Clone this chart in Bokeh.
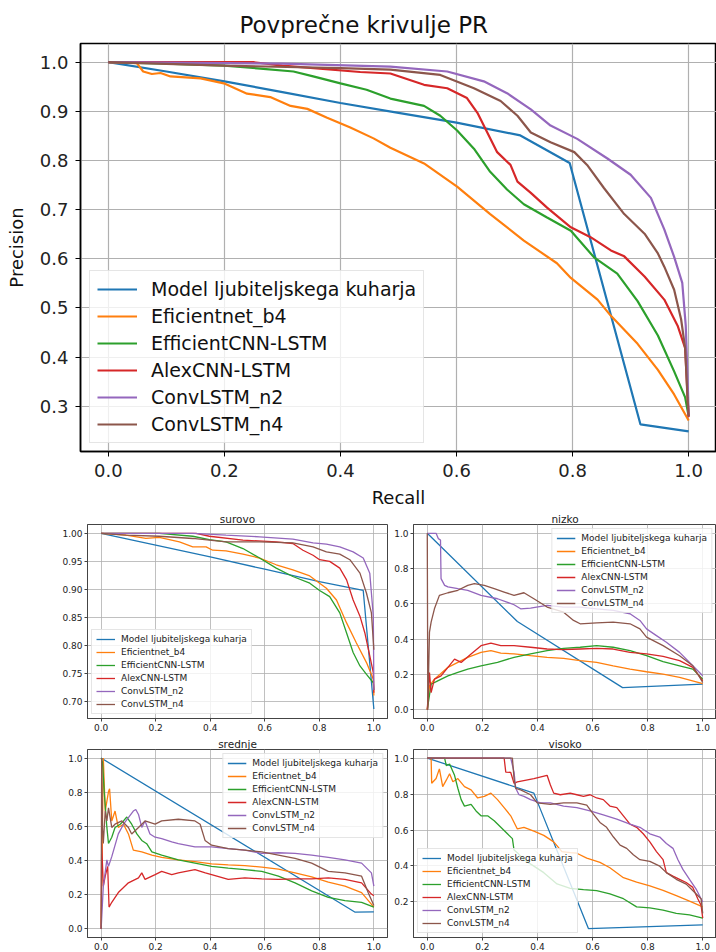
from bokeh.plotting import figure
from bokeh.layouts import column, row
from bokeh.models import FixedTicker, NumeralTickFormatter, Range1d
from bokeh.embed import file_html
from bokeh.resources import INLINE

FONT = "DejaVu Sans"
SERIES = ["Model ljubiteljskega kuharja", "Eficientnet_b4", "EfficientCNN-LSTM",
          "AlexCNN-LSTM", "ConvLSTM_n2", "ConvLSTM_n4"]
COLORS = ["#1f77b4", "#ff7f0e", "#2ca02c", "#d62728", "#9467bd", "#8c564b"]
TICKS_X = [0.0, 0.2, 0.4, 0.6, 0.8, 1.0]

# ---------------- Povprečne krivulje PR (average) ----------------
avg_model_r = [0.0, 0.1, 0.2, 0.3, 0.4, 0.5, 0.6, 0.71, 0.795, 0.917, 1.0]
avg_model_p = [1.0, 0.981, 0.961, 0.939, 0.917, 0.897, 0.877, 0.851, 0.795, 0.263, 0.249]
avg_eff_r = [0.0, 0.049, 0.06, 0.075, 0.09, 0.107, 0.159, 0.199, 0.239, 0.279, 0.314, 0.343, 0.377, 0.417, 0.457,
             0.486, 0.544, 0.601, 0.658, 0.716, 0.773, 0.797, 0.843, 0.866, 0.912, 0.947, 0.975, 1.0]
avg_eff_p = [1.0, 0.998, 0.981, 0.976, 0.978, 0.971, 0.967, 0.957, 0.936, 0.929, 0.911, 0.905, 0.887, 0.867, 0.845,
             0.826, 0.794, 0.747, 0.691, 0.637, 0.591, 0.561, 0.517, 0.484, 0.427, 0.374, 0.324, 0.271]
avg_ecnn_r = [0.0, 0.1, 0.2, 0.262, 0.319, 0.353, 0.4, 0.445, 0.486, 0.544, 0.572, 0.601, 0.630, 0.658, 0.687,
              0.716, 0.756, 0.797, 0.837, 0.877, 0.912, 0.947, 0.975, 0.994, 1.0]
avg_ecnn_p = [1.0, 0.997, 0.993, 0.987, 0.981, 0.971, 0.957, 0.944, 0.926, 0.911, 0.891, 0.861, 0.824, 0.777, 0.741,
              0.711, 0.684, 0.657, 0.603, 0.57, 0.514, 0.444, 0.371, 0.318, 0.28]
avg_alex_r = [0.0, 0.19, 0.25, 0.3, 0.434, 0.486, 0.544, 0.584, 0.618, 0.636, 0.653, 0.670, 0.693, 0.705, 0.728,
              0.756, 0.797, 0.831, 0.866, 0.889, 0.924, 0.958, 0.981, 0.994, 1.0]
avg_alex_p = [1.0, 1.0, 1.0, 0.993, 0.98, 0.977, 0.954, 0.947, 0.927, 0.897, 0.857, 0.817, 0.791, 0.757, 0.734,
              0.704, 0.664, 0.644, 0.617, 0.605, 0.564, 0.517, 0.464, 0.418, 0.278]
avg_n2_r = [0.0, 0.3, 0.486, 0.584, 0.647, 0.687, 0.728, 0.762, 0.808, 0.860, 0.900, 0.935, 0.958, 0.975, 0.989,
            0.995, 0.999, 1.0]
avg_n2_p = [1.0, 0.997, 0.991, 0.981, 0.961, 0.937, 0.904, 0.871, 0.844, 0.804, 0.771, 0.724, 0.66, 0.604, 0.551,
            0.464, 0.324, 0.28]
avg_n4_r = [0.0, 0.2, 0.4, 0.486, 0.572, 0.630, 0.676, 0.705, 0.728, 0.762, 0.803, 0.825, 0.854, 0.889, 0.924,
            0.947, 0.958, 0.975, 0.987, 0.994, 0.998, 1.0]
avg_n4_p = [1.0, 0.993, 0.988, 0.985, 0.974, 0.947, 0.921, 0.891, 0.857, 0.837, 0.817, 0.791, 0.744, 0.691, 0.651,
            0.611, 0.584, 0.537, 0.477, 0.418, 0.318, 0.28]

# ---------------- surovo ----------------
sur_model_r = [0.0, 0.2, 0.4, 0.6, 0.8, 0.961, 1.0]
sur_model_p = [1.0, 0.979, 0.958, 0.936, 0.914, 0.898, 0.686]
sur_eff_r = [0.0, 0.091, 0.164, 0.213, 0.287, 0.336, 0.385, 0.409, 0.458, 0.520, 0.581, 0.642, 0.703, 0.765, 0.826,
             0.863, 0.900, 0.936, 0.973, 0.998, 1.0]
sur_eff_p = [1.0, 0.997, 0.991, 0.993, 0.985, 0.976, 0.976, 0.970, 0.969, 0.963, 0.956, 0.944, 0.935, 0.924, 0.902,
             0.881, 0.840, 0.804, 0.769, 0.739, 0.71]
sur_ecnn_r = [0.0, 0.213, 0.336, 0.397, 0.458, 0.520, 0.581, 0.642, 0.703, 0.765, 0.801, 0.838, 0.875, 0.900, 0.924,
              0.949, 0.973, 0.998, 1.0]
sur_ecnn_p = [1.0, 1.0, 0.995, 0.989, 0.985, 0.973, 0.956, 0.938, 0.923, 0.911, 0.898, 0.887, 0.858, 0.822, 0.787,
              0.763, 0.748, 0.733, 0.72]
sur_alex_r = [0.0, 0.348, 0.397, 0.520, 0.642, 0.703, 0.740, 0.777, 0.801, 0.838, 0.875, 0.900, 0.924, 0.949, 0.967,
              0.985, 0.998, 1.0]
sur_alex_p = [1.0, 1.0, 0.995, 0.988, 0.985, 0.982, 0.970, 0.961, 0.953, 0.950, 0.938, 0.917, 0.881, 0.852, 0.822,
              0.781, 0.751, 0.715]
sur_n2_r = [0.0, 0.336, 0.458, 0.581, 0.703, 0.777, 0.826, 0.875, 0.924, 0.961, 0.985, 0.998, 1.0]
sur_n2_p = [1.0, 1.0, 0.997, 0.994, 0.990, 0.983, 0.981, 0.976, 0.967, 0.956, 0.929, 0.852, 0.72]
sur_n4_r = [0.0, 0.091, 0.213, 0.336, 0.458, 0.581, 0.703, 0.777, 0.826, 0.875, 0.912, 0.949, 0.973, 0.991, 1.0]
sur_n4_p = [1.0, 0.997, 0.995, 0.991, 0.985, 0.985, 0.983, 0.976, 0.967, 0.963, 0.953, 0.929, 0.893, 0.858, 0.792]

# ---------------- nizko ----------------
niz_model_r = [0.0, 0.327, 0.709, 1.0]
niz_model_p = [1.0, 0.5, 0.125, 0.145]
niz_eff_r = [0.0, 0.008, 0.026, 0.075, 0.111, 0.147, 0.195, 0.231, 0.267, 0.315, 0.375, 0.435, 0.495, 0.555, 0.615,
             0.675, 0.736, 0.796, 0.856, 0.916, 1.0]
niz_eff_p = [0.0, 0.135, 0.173, 0.24, 0.268, 0.297, 0.325, 0.335, 0.321, 0.316, 0.306, 0.297, 0.291, 0.278, 0.268,
             0.249, 0.23, 0.215, 0.202, 0.183, 0.148]
niz_ecnn_r = [0.0, 0.014, 0.038, 0.075, 0.111, 0.147, 0.195, 0.255, 0.315, 0.375, 0.435, 0.495, 0.555, 0.615, 0.675,
              0.736, 0.796, 0.856, 0.916, 0.964, 1.0]
niz_ecnn_p = [0.0, 0.144, 0.163, 0.192, 0.211, 0.23, 0.249, 0.268, 0.297, 0.316, 0.335, 0.348, 0.354, 0.363, 0.354,
              0.335, 0.306, 0.272, 0.249, 0.23, 0.173]
niz_alex_r = [0.0, 0.008, 0.014, 0.026, 0.05, 0.075, 0.099, 0.123, 0.159, 0.195, 0.231, 0.267, 0.315, 0.375, 0.435,
              0.495, 0.555, 0.615, 0.675, 0.736, 0.796, 0.856, 0.916, 0.964, 1.0]
niz_alex_p = [0.0, 0.211, 0.097, 0.173, 0.192, 0.24, 0.287, 0.268, 0.316, 0.363, 0.378, 0.363, 0.363, 0.354, 0.344,
              0.340, 0.344, 0.348, 0.344, 0.325, 0.316, 0.302, 0.278, 0.24, 0.163]
niz_n2_r = [0.0, 0.032, 0.04, 0.048, 0.05, 0.063, 0.075, 0.111, 0.147, 0.195, 0.255, 0.315, 0.339, 0.375, 0.435,
            0.495, 0.555, 0.615, 0.675, 0.736, 0.772, 0.796, 0.832, 0.868, 0.916, 0.964, 1.0]
niz_n2_p = [1.0, 1.0, 0.97, 0.962, 0.743, 0.705, 0.696, 0.686, 0.677, 0.648, 0.629, 0.595, 0.572, 0.576, 0.591,
            0.582, 0.582, 0.572, 0.563, 0.544, 0.506, 0.458, 0.42, 0.382, 0.325, 0.249, 0.192]
niz_n4_r = [0.0, 0.002, 0.008, 0.014, 0.026, 0.044, 0.075, 0.111, 0.147, 0.171, 0.207, 0.243, 0.279, 0.315, 0.351,
            0.387, 0.435, 0.495, 0.531, 0.555, 0.615, 0.675, 0.736, 0.772, 0.796, 0.856, 0.916, 0.964, 1.0]
niz_n4_p = [1.0, 0.0, 0.44, 0.496, 0.572, 0.648, 0.663, 0.677, 0.705, 0.715, 0.705, 0.686, 0.667, 0.648, 0.663,
            0.629, 0.582, 0.553, 0.506, 0.487, 0.492, 0.496, 0.487, 0.458, 0.411, 0.363, 0.306, 0.249, 0.154]

# ---------------- srednje ----------------
sre_model_r = [0.0, 0.93, 1.0]
sre_model_p = [1.0, 0.099, 0.1]
sre_eff_r = [0.0, 0.008, 0.015, 0.027, 0.031, 0.039, 0.051, 0.063, 0.082, 0.1, 0.118, 0.149, 0.186, 0.222, 0.283,
             0.344, 0.405, 0.466, 0.527, 0.589, 0.65, 0.711, 0.772, 0.833, 0.894, 0.955, 1.0]
sre_eff_p = [0.0, 1.0, 0.69, 0.804, 0.82, 0.632, 0.69, 0.594, 0.613, 0.556, 0.461, 0.451, 0.432, 0.419, 0.404,
             0.394, 0.381, 0.375, 0.37, 0.362, 0.35, 0.328, 0.305, 0.274, 0.251, 0.213, 0.128]
sre_ecnn_r = [0.0, 0.005, 0.012, 0.021, 0.027, 0.039, 0.051, 0.07, 0.082, 0.094, 0.112, 0.131, 0.149, 0.167, 0.186,
              0.222, 0.283, 0.344, 0.405, 0.466, 0.527, 0.589, 0.65, 0.711, 0.772, 0.833, 0.894, 0.955, 1.0]
sre_ecnn_p = [1.0, 0.975, 0.785, 0.594, 0.5, 0.537, 0.594, 0.613, 0.632, 0.655, 0.613, 0.556, 0.518, 0.499, 0.451,
              0.432, 0.404, 0.385, 0.366, 0.356, 0.347, 0.337, 0.309, 0.27, 0.223, 0.185, 0.166, 0.156, 0.128]
sre_alex_r = [0.0, 0.002, 0.008, 0.015, 0.021, 0.024, 0.029, 0.039, 0.063, 0.1, 0.137, 0.149, 0.161, 0.198, 0.222,
              0.259, 0.283, 0.344, 0.382, 0.405, 0.466, 0.527, 0.589, 0.65, 0.711, 0.772, 0.833, 0.894, 0.955,
              0.991, 1.0]
sre_alex_p = [0.0, 0.5, 0.25, 0.309, 0.347, 0.366, 0.128, 0.156, 0.213, 0.27, 0.299, 0.328, 0.29, 0.318, 0.337,
              0.318, 0.328, 0.347, 0.328, 0.318, 0.29, 0.299, 0.293, 0.29, 0.293, 0.293, 0.299, 0.29, 0.27,
              0.204, 0.194]
sre_n2_r = [0.0, 0.008, 0.021, 0.027, 0.039, 0.063, 0.082, 0.1, 0.118, 0.127, 0.137, 0.149, 0.161, 0.179, 0.198,
            0.222, 0.259, 0.283, 0.344, 0.405, 0.466, 0.527, 0.589, 0.65, 0.711, 0.772, 0.833, 0.894, 0.955,
            0.991, 1.0]
sre_n2_p = [0.0, 0.25, 0.404, 0.366, 0.423, 0.556, 0.613, 0.651, 0.69, 0.699, 0.67, 0.594, 0.632, 0.556, 0.537,
            0.528, 0.509, 0.499, 0.48, 0.48, 0.47, 0.461, 0.442, 0.446, 0.442, 0.432, 0.419, 0.404, 0.385,
            0.328, 0.251]
sre_n4_r = [0.0, 0.002, 0.005, 0.008, 0.015, 0.021, 0.027, 0.039, 0.051, 0.076, 0.1, 0.112, 0.137, 0.161, 0.198,
            0.222, 0.283, 0.344, 0.363, 0.381, 0.405, 0.466, 0.527, 0.589, 0.65, 0.711, 0.772, 0.833, 0.894,
            0.955, 0.979, 1.0]
sre_n4_p = [0.0, 1.0, 0.594, 0.5, 0.69, 0.632, 0.709, 0.594, 0.613, 0.632, 0.594, 0.556, 0.594, 0.632, 0.613,
            0.632, 0.642, 0.632, 0.613, 0.518, 0.49, 0.47, 0.461, 0.451, 0.432, 0.413, 0.385, 0.337, 0.328,
            0.309, 0.213, 0.137]

# ---------------- visoko ----------------
vis_model_r = [0.0, 0.387, 0.585, 1.0]
vis_model_p = [1.0, 0.805, 0.052, 0.073]
vis_eff_r = [0.0, 0.014, 0.016, 0.032, 0.044, 0.056, 0.069, 0.081, 0.093, 0.111, 0.135, 0.159, 0.183, 0.207, 0.231,
             0.255, 0.279, 0.303, 0.327, 0.351, 0.387, 0.423, 0.459, 0.489, 0.519, 0.543, 0.579, 0.627, 0.663,
             0.712, 0.76, 0.808, 0.856, 0.904, 0.952, 1.0]
vis_eff_p = [1.0, 1.0, 0.86, 0.886, 0.94, 0.841, 0.877, 0.913, 0.868, 0.886, 0.841, 0.823, 0.778, 0.787, 0.805,
             0.769, 0.724, 0.679, 0.606, 0.615, 0.594, 0.57, 0.534, 0.48, 0.474, 0.471, 0.444, 0.42, 0.39,
             0.335, 0.31, 0.29, 0.265, 0.235, 0.205, 0.173]
vis_ecnn_r = [0.0, 0.063, 0.069, 0.081, 0.099, 0.111, 0.123, 0.135, 0.159, 0.177, 0.195, 0.219, 0.243, 0.267, 0.291,
              0.309, 0.315, 0.327, 0.351, 0.387, 0.423, 0.471, 0.519, 0.567, 0.615, 0.663, 0.712, 0.76, 0.808,
              0.856, 0.904, 0.952, 1.0]
vis_ecnn_p = [1.0, 1.0, 0.958, 0.967, 0.904, 0.832, 0.769, 0.733, 0.742, 0.706, 0.679, 0.679, 0.651, 0.615, 0.579,
              0.552, 0.489, 0.474, 0.435, 0.399, 0.363, 0.3, 0.276, 0.269, 0.263, 0.245, 0.218, 0.173, 0.167,
              0.155, 0.137, 0.128, 0.11]
vis_alex_r = [0.0, 0.279, 0.285, 0.303, 0.315, 0.327, 0.387, 0.435, 0.447, 0.459, 0.483, 0.519, 0.543, 0.567, 0.591,
              0.615, 0.639, 0.663, 0.688, 0.712, 0.736, 0.76, 0.784, 0.808, 0.832, 0.856, 0.868, 0.892, 0.916,
              0.94, 0.964, 0.982, 0.994, 1.0]
vis_alex_p = [1.0, 1.0, 0.922, 0.92, 0.859, 0.868, 0.886, 0.904, 0.85, 0.805, 0.796, 0.805, 0.796, 0.787, 0.796,
              0.778, 0.769, 0.733, 0.724, 0.679, 0.633, 0.615, 0.579, 0.534, 0.48, 0.435, 0.363, 0.344, 0.326,
              0.308, 0.281, 0.218, 0.182, 0.11]
vis_n2_r = [0.0, 0.291, 0.303, 0.315, 0.321, 0.333, 0.351, 0.375, 0.411, 0.447, 0.495, 0.543, 0.591, 0.639, 0.688,
            0.736, 0.772, 0.808, 0.844, 0.868, 0.892, 0.91, 0.928, 0.952, 0.976, 1.0]
vis_n2_p = [1.0, 1.0, 1.0, 0.922, 0.832, 0.796, 0.787, 0.769, 0.751, 0.751, 0.733, 0.724, 0.706, 0.684, 0.661,
            0.633, 0.615, 0.579, 0.561, 0.525, 0.498, 0.435, 0.381, 0.326, 0.272, 0.2]
vis_n4_r = [0.0, 0.297, 0.309, 0.315, 0.321, 0.339, 0.375, 0.399, 0.447, 0.495, 0.543, 0.579, 0.603, 0.627, 0.651,
            0.676, 0.7, 0.724, 0.748, 0.772, 0.808, 0.844, 0.868, 0.904, 0.94, 0.97, 0.994, 1.0]
vis_n4_p = [1.0, 1.0, 1.0, 0.886, 0.832, 0.823, 0.796, 0.751, 0.742, 0.751, 0.751, 0.738, 0.688, 0.642, 0.615,
            0.561, 0.516, 0.498, 0.462, 0.435, 0.426, 0.399, 0.363, 0.326, 0.299, 0.254, 0.218, 0.137]


def style_common(p, tick_size, tick_out, standoff, outline_color, outline_w, grid_w):
    p.outline_line_color = outline_color
    p.outline_line_width = outline_w
    p.background_fill_color = "white"
    p.border_fill_color = "white"
    for ax in (p.xaxis, p.yaxis):
        ax.major_label_text_font = FONT
        ax.major_label_text_font_size = tick_size
        ax.major_label_text_color = "#222222"
        ax.major_tick_out = tick_out
        ax.major_tick_in = 0
        ax.minor_tick_line_color = None
        ax.major_label_standoff = standoff
        ax.axis_line_color = outline_color
        ax.axis_line_width = outline_w
        ax.major_tick_line_color = outline_color
    for g in (p.xgrid, p.ygrid):
        g.grid_line_color = "#b0b0b0"
        g.grid_line_width = grid_w


# ---------------- top figure ----------------
top = figure(width=716, height=510, output_backend="svg", toolbar_location=None,
             x_range=Range1d(-0.048, 1.048), y_range=Range1d(0.208, 1.038),
             min_border_left=80, min_border_right=0, min_border_top=43, min_border_bottom=52)
top.title.text = "Povprečne krivulje PR"
top.title.align = "left"
top.title.offset = 159
top.title.text_font = FONT
top.title.text_font_size = "23px"
top.title.text_font_style = "normal"
top.title.text_color = "#111111"
top.title.standoff = 12
style_common(top, "18px", 5, 7, "black", 1.5, 1.2)
top.xaxis.ticker = FixedTicker(ticks=TICKS_X)
top.yaxis.ticker = FixedTicker(ticks=[0.3, 0.4, 0.5, 0.6, 0.7, 0.8, 0.9, 1.0])
top.xaxis.formatter = NumeralTickFormatter(format="0.0")
top.yaxis.formatter = NumeralTickFormatter(format="0.0")
top.xaxis.axis_label = "Recall"
top.yaxis.axis_label = "Precision"
for ax in (top.xaxis, top.yaxis):
    ax.axis_label_text_font = FONT
    ax.axis_label_text_font_size = "18px"
    ax.axis_label_text_font_style = "normal"
    ax.axis_label_text_color = "#111111"
top.xaxis.axis_label_standoff = 7
top.yaxis.axis_label_standoff = 10

avg_data = [(avg_model_r, avg_model_p), (avg_eff_r, avg_eff_p), (avg_ecnn_r, avg_ecnn_p),
            (avg_alex_r, avg_alex_p), (avg_n2_r, avg_n2_p), (avg_n4_r, avg_n4_p)]
for (r, pr), name, col in zip(avg_data, SERIES, COLORS):
    top.line(r, pr, line_color=col, line_width=2.2, legend_label=name)
lg = top.legend[0]
lg.location = (9, 8)
lg.margin = 0
lg.padding = 7
lg.spacing = 5
lg.glyph_width = 40
lg.glyph_height = 20
lg.label_height = 20
lg.label_standoff = 14
lg.label_text_font = FONT
lg.label_text_font_size = "19px"
lg.label_text_color = "#111111"
lg.border_line_color = "#cccccc"
lg.background_fill_alpha = 0.8


# ---------------- small panels ----------------
def small_panel(title, data, width, height, y_range, y_ticks, y_fmt, legend_loc,
                mb_left, mb_right, mb_top, mb_bottom):
    p = figure(width=width, height=height, output_backend="svg", toolbar_location=None,
               x_range=Range1d(-0.05, 1.05), y_range=Range1d(*y_range),
               min_border_left=mb_left, min_border_right=mb_right,
               min_border_top=mb_top, min_border_bottom=mb_bottom)
    p.title.text = title
    p.title.align = "center"
    p.title.text_font = FONT
    p.title.text_font_size = "10.5px"
    p.title.text_font_style = "normal"
    p.title.text_color = "#222222"
    p.title.standoff = 0
    style_common(p, "9px", 3, 2, "#444444", 1, 0.8)
    p.xaxis.ticker = FixedTicker(ticks=TICKS_X)
    p.yaxis.ticker = FixedTicker(ticks=y_ticks)
    p.xaxis.formatter = NumeralTickFormatter(format="0.0")
    p.yaxis.formatter = NumeralTickFormatter(format=y_fmt)
    for (r, pr), name, col in zip(data, SERIES, COLORS):
        p.line(r, pr, line_color=col, line_width=1.3, legend_label=name)
    l = p.legend[0]
    l.location = legend_loc
    l.margin = 4
    l.padding = 4
    l.spacing = 3
    l.glyph_width = 19
    l.glyph_height = 10
    l.label_height = 10
    l.label_standoff = 6
    l.label_text_font = FONT
    l.label_text_font_size = "9px"
    l.label_text_color = "#222222"
    l.border_line_color = "#cccccc"
    l.background_fill_alpha = 0.8
    return p


sur_data = [(sur_model_r, sur_model_p), (sur_eff_r, sur_eff_p), (sur_ecnn_r, sur_ecnn_p),
            (sur_alex_r, sur_alex_p), (sur_n2_r, sur_n2_p), (sur_n4_r, sur_n4_p)]
niz_data = [(niz_model_r, niz_model_p), (niz_eff_r, niz_eff_p), (niz_ecnn_r, niz_ecnn_p),
            (niz_alex_r, niz_alex_p), (niz_n2_r, niz_n2_p), (niz_n4_r, niz_n4_p)]
sre_data = [(sre_model_r, sre_model_p), (sre_eff_r, sre_eff_p), (sre_ecnn_r, sre_ecnn_p),
            (sre_alex_r, sre_alex_p), (sre_n2_r, sre_n2_p), (sre_n4_r, sre_n4_p)]
vis_data = [(vis_model_r, vis_model_p), (vis_eff_r, vis_eff_p), (vis_ecnn_r, vis_ecnn_p),
            (vis_alex_r, vis_alex_p), (vis_n2_r, vis_n2_p), (vis_n4_r, vis_n4_p)]

TICKS_01 = [0.0, 0.2, 0.4, 0.6, 0.8, 1.0]
p_sur = small_panel("surovo", sur_data, 390, 225, (0.669, 1.016),
                    [0.70, 0.75, 0.80, 0.85, 0.90, 0.95, 1.00], "0.00", "bottom_left", 87, 3, 12, 17)
p_niz = small_panel("nizko", niz_data, 326, 225, (-0.05, 1.05), TICKS_01, "0.0", "top_right", 23, 0, 12, 17)
p_sre = small_panel("srednje", sre_data, 390, 217, (-0.05, 1.05), TICKS_01, "0.0", "top_right", 87, 3, 10, 15)
p_vis = small_panel("visoko", vis_data, 326, 217, (0.0025, 1.0475),
                    [0.2, 0.4, 0.6, 0.8, 1.0], "0.0", "bottom_left", 23, 0, 10, 15)

layout = column(top, row(p_sur, p_niz), row(p_sre, p_vis))
open("out.html", "w").write(file_html(layout, INLINE))
